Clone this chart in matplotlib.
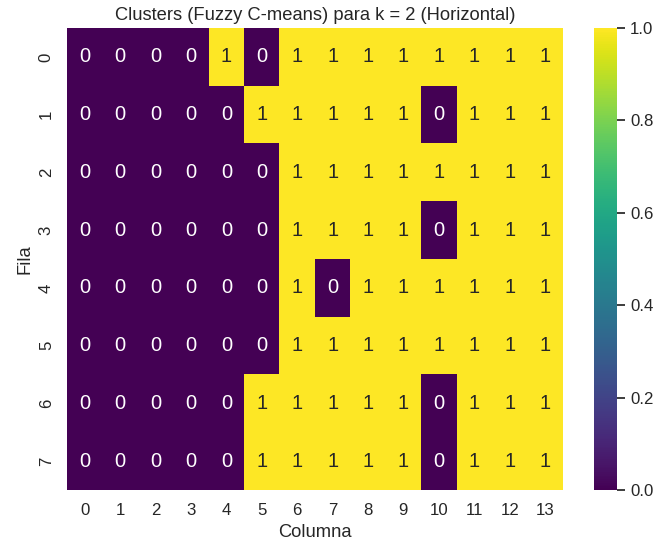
import numpy as np
import matplotlib
matplotlib.use("Agg")
import matplotlib.pyplot as plt
import seaborn as sns

# cluster labels per cell (rows = Fila, cols = Columna)
clusters = [
    [0, 0, 0, 0, 1, 0, 1, 1, 1, 1, 1, 1, 1, 1],
    [0, 0, 0, 0, 0, 1, 1, 1, 1, 1, 0, 1, 1, 1],
    [0, 0, 0, 0, 0, 0, 1, 1, 1, 1, 1, 1, 1, 1],
    [0, 0, 0, 0, 0, 0, 1, 1, 1, 1, 0, 1, 1, 1],
    [0, 0, 0, 0, 0, 0, 1, 0, 1, 1, 1, 1, 1, 1],
    [0, 0, 0, 0, 0, 0, 1, 1, 1, 1, 1, 1, 1, 1],
    [0, 0, 0, 0, 0, 1, 1, 1, 1, 1, 0, 1, 1, 1],
    [0, 0, 0, 0, 0, 1, 1, 1, 1, 1, 0, 1, 1, 1],
]
k = 2

sns.set_theme(style="white", font_scale=1.1)
plt.rcParams['font.family'] = ['Liberation Sans', 'DejaVu Sans']

fig = plt.figure(figsize=(6.7, 5.49), dpi=100)
ax = fig.add_axes([0.10, 0.1075, 0.740, 0.8415])
cax = fig.add_axes([0.8866, 0.1075, 0.0343, 0.8415])
sns.heatmap(np.array(clusters), annot=True, fmt="d", cmap="viridis", ax=ax, cbar_ax=cax,
            annot_kws={"size": 14.5})
cax.tick_params(axis="y", length=6, width=1.25, color="#262626")
ax.set_title(f"Clusters (Fuzzy C-means) para k = {k} (Horizontal)")
ax.set_xlabel("Columna")
ax.set_ylabel("Fila")

fig.savefig("out.png", dpi=100)
